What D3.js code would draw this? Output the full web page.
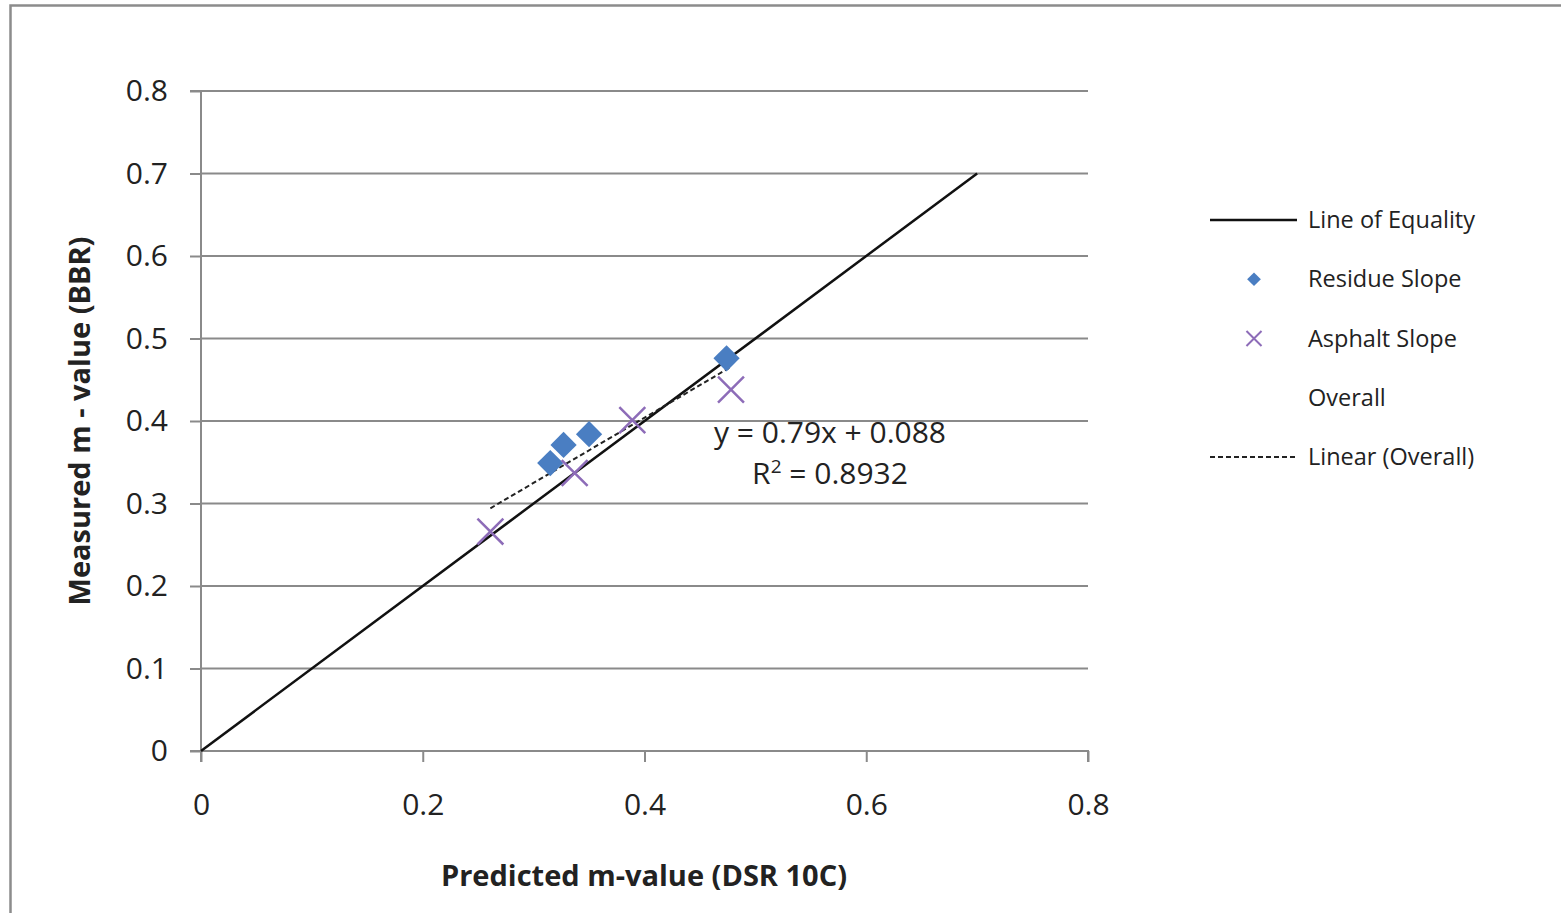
<!DOCTYPE html>
<html><head><meta charset="utf-8">
<script src="https://cdn.jsdelivr.net/npm/d3@7"></script>
<style>body{margin:0;background:#fff;} svg{display:block;}</style>
</head><body>
<svg id="c" width="1561" height="913"></svg>
<script>
const xTicks = [0, 0.2, 0.4, 0.6, 0.8];
const yTicks = [0, 0.1, 0.2, 0.3, 0.4, 0.5, 0.6, 0.7, 0.8];
const residueX = [0.315, 0.327, 0.350, 0.474];
const residueY = [0.349, 0.371, 0.384, 0.476];
const asphaltX = [0.261, 0.337, 0.389, 0.478];
const asphaltY = [0.266, 0.337, 0.401, 0.438];
const equalityX = [0, 0.7];
const equalityY = [0, 0.7];
const trendSlope = 0.79, trendIntercept = 0.088;
const legendLabels = ["Line of Equality", "Residue Slope", "Asphalt Slope", "Overall", "Linear (Overall)"];

const svg = d3.select("#c");
const font = "'Open Sans', sans-serif";
const x = d3.scaleLinear().domain([0, 0.8]).range([201, 1088]);
const y = d3.scaleLinear().domain([0, 0.8]).range([751, 91]);

// outer frame
svg.append("path").attr("d", "M10.5,913 V5.5 H1561").attr("fill", "none").attr("stroke", "#8c8c8c").attr("stroke-width", 2.5);

// gridlines
svg.append("g").selectAll("line").data(yTicks.filter(d => d > 0)).join("line")
  .attr("x1", x(0)).attr("x2", x(0.8)).attr("y1", d => y(d)).attr("y2", d => y(d))
  .attr("stroke", "#8a8a8a").attr("stroke-width", 2);

// axes
const yAxis = svg.append("g").attr("transform", `translate(${x(0)},0)`)
  .call(d3.axisLeft(y).tickValues(yTicks).tickSize(11).tickPadding(22).tickFormat(d => d === 0 ? "0" : d3.format(".1f")(d)));
const xAxis = svg.append("g").attr("transform", `translate(0,${y(0)})`)
  .call(d3.axisBottom(x).tickValues(xTicks).tickSize(11).tickPadding(32).tickFormat(d => d === 0 ? "0" : d3.format(".1f")(d)));
[xAxis, yAxis].forEach(a => {
  a.select(".domain").attr("stroke", "#8a8a8a").attr("stroke-width", 2);
  a.selectAll(".tick line").attr("stroke", "#8a8a8a").attr("stroke-width", 2);
  a.selectAll("text").attr("font-family", font).attr("font-size", 30).attr("fill", "#222");
});
yAxis.select(".domain").attr("d", `M-11,${y(0.8)}H0V${y(0)}H-11`);
xAxis.select(".domain").attr("d", `M${x(0)},11V0H${x(0.8)}V11`);

// line of equality
svg.append("line").attr("x1", x(equalityX[0])).attr("y1", y(equalityY[0]))
  .attr("x2", x(equalityX[1])).attr("y2", y(equalityY[1]))
  .attr("stroke", "#111").attr("stroke-width", 2.5);

// trend line
const allX = residueX.concat(asphaltX);
const tx0 = d3.min(allX), tx1 = d3.max(allX);
svg.append("line").attr("x1", x(tx0)).attr("y1", y(trendSlope * tx0 + trendIntercept))
  .attr("x2", x(tx1)).attr("y2", y(trendSlope * tx1 + trendIntercept))
  .attr("stroke", "#222").attr("stroke-width", 2).attr("stroke-dasharray", "5,3");

// residue markers (diamonds)
const dia = d3.symbol().type(d3.symbolDiamond2).size(440);
svg.append("g").selectAll("path").data(residueX.map((d, i) => [d, residueY[i]])).join("path")
  .attr("d", dia).attr("transform", d => `translate(${x(d[0])},${y(d[1])})`)
  .attr("fill", "#4a7ec2");

// asphalt markers (x)
const cross = d3.symbol().type(d3.symbolX).size(440);
svg.append("g").selectAll("path").data(asphaltX.map((d, i) => [d, asphaltY[i]])).join("path")
  .attr("d", cross).attr("transform", d => `translate(${x(d[0])},${y(d[1])})`)
  .attr("fill", "none").attr("stroke", "#8d6cb8").attr("stroke-width", 2.5);

// equation
svg.append("text").attr("x", 830).attr("y", 443).attr("text-anchor", "middle")
  .attr("font-family", font).attr("font-size", 30).attr("fill", "#222").text("y = 0.79x + 0.088");
const r2 = svg.append("text").attr("x", 830).attr("y", 484).attr("text-anchor", "middle")
  .attr("font-family", font).attr("font-size", 30).attr("fill", "#222");
r2.append("tspan").text("R");
r2.append("tspan").attr("font-size", 19).attr("dy", -11).text("2");
r2.append("tspan").attr("dy", 11).text(" = 0.8932");

// axis titles
svg.append("text").attr("x", 644).attr("y", 886).attr("text-anchor", "middle")
  .attr("font-family", font).attr("font-weight", "bold").attr("font-size", 29).attr("fill", "#222")
  .text("Predicted m-value (DSR 10C)");
svg.append("text").attr("transform", "translate(90,421) rotate(-90)").attr("text-anchor", "middle")
  .attr("font-family", font).attr("font-weight", "bold").attr("font-size", 29).attr("fill", "#222")
  .text("Measured m - value (BBR)");

// legend
const ly = d3.scalePoint().domain(legendLabels).range([220, 457]);
const lg = svg.append("g");
lg.selectAll("text").data(legendLabels).join("text")
  .attr("x", 1308).attr("y", d => ly(d) + 8)
  .attr("font-family", font).attr("font-size", 23.5).attr("fill", "#222").text(d => d);
lg.append("line").attr("x1", 1210).attr("x2", 1297).attr("y1", ly(legendLabels[0])).attr("y2", ly(legendLabels[0]))
  .attr("stroke", "#111").attr("stroke-width", 2.5);
lg.append("path").attr("d", d3.symbol().type(d3.symbolDiamond2).size(120))
  .attr("transform", `translate(1254,${ly(legendLabels[1])})`).attr("fill", "#4a7ec2");
lg.append("path").attr("d", d3.symbol().type(d3.symbolX).size(150))
  .attr("transform", `translate(1254,${ly(legendLabels[2])})`).attr("fill", "none").attr("stroke", "#8d6cb8").attr("stroke-width", 2);
lg.append("line").attr("x1", 1210).attr("x2", 1297).attr("y1", ly(legendLabels[4])).attr("y2", ly(legendLabels[4]))
  .attr("stroke", "#222").attr("stroke-width", 2).attr("stroke-dasharray", "5,3");
</script>
</body></html>
